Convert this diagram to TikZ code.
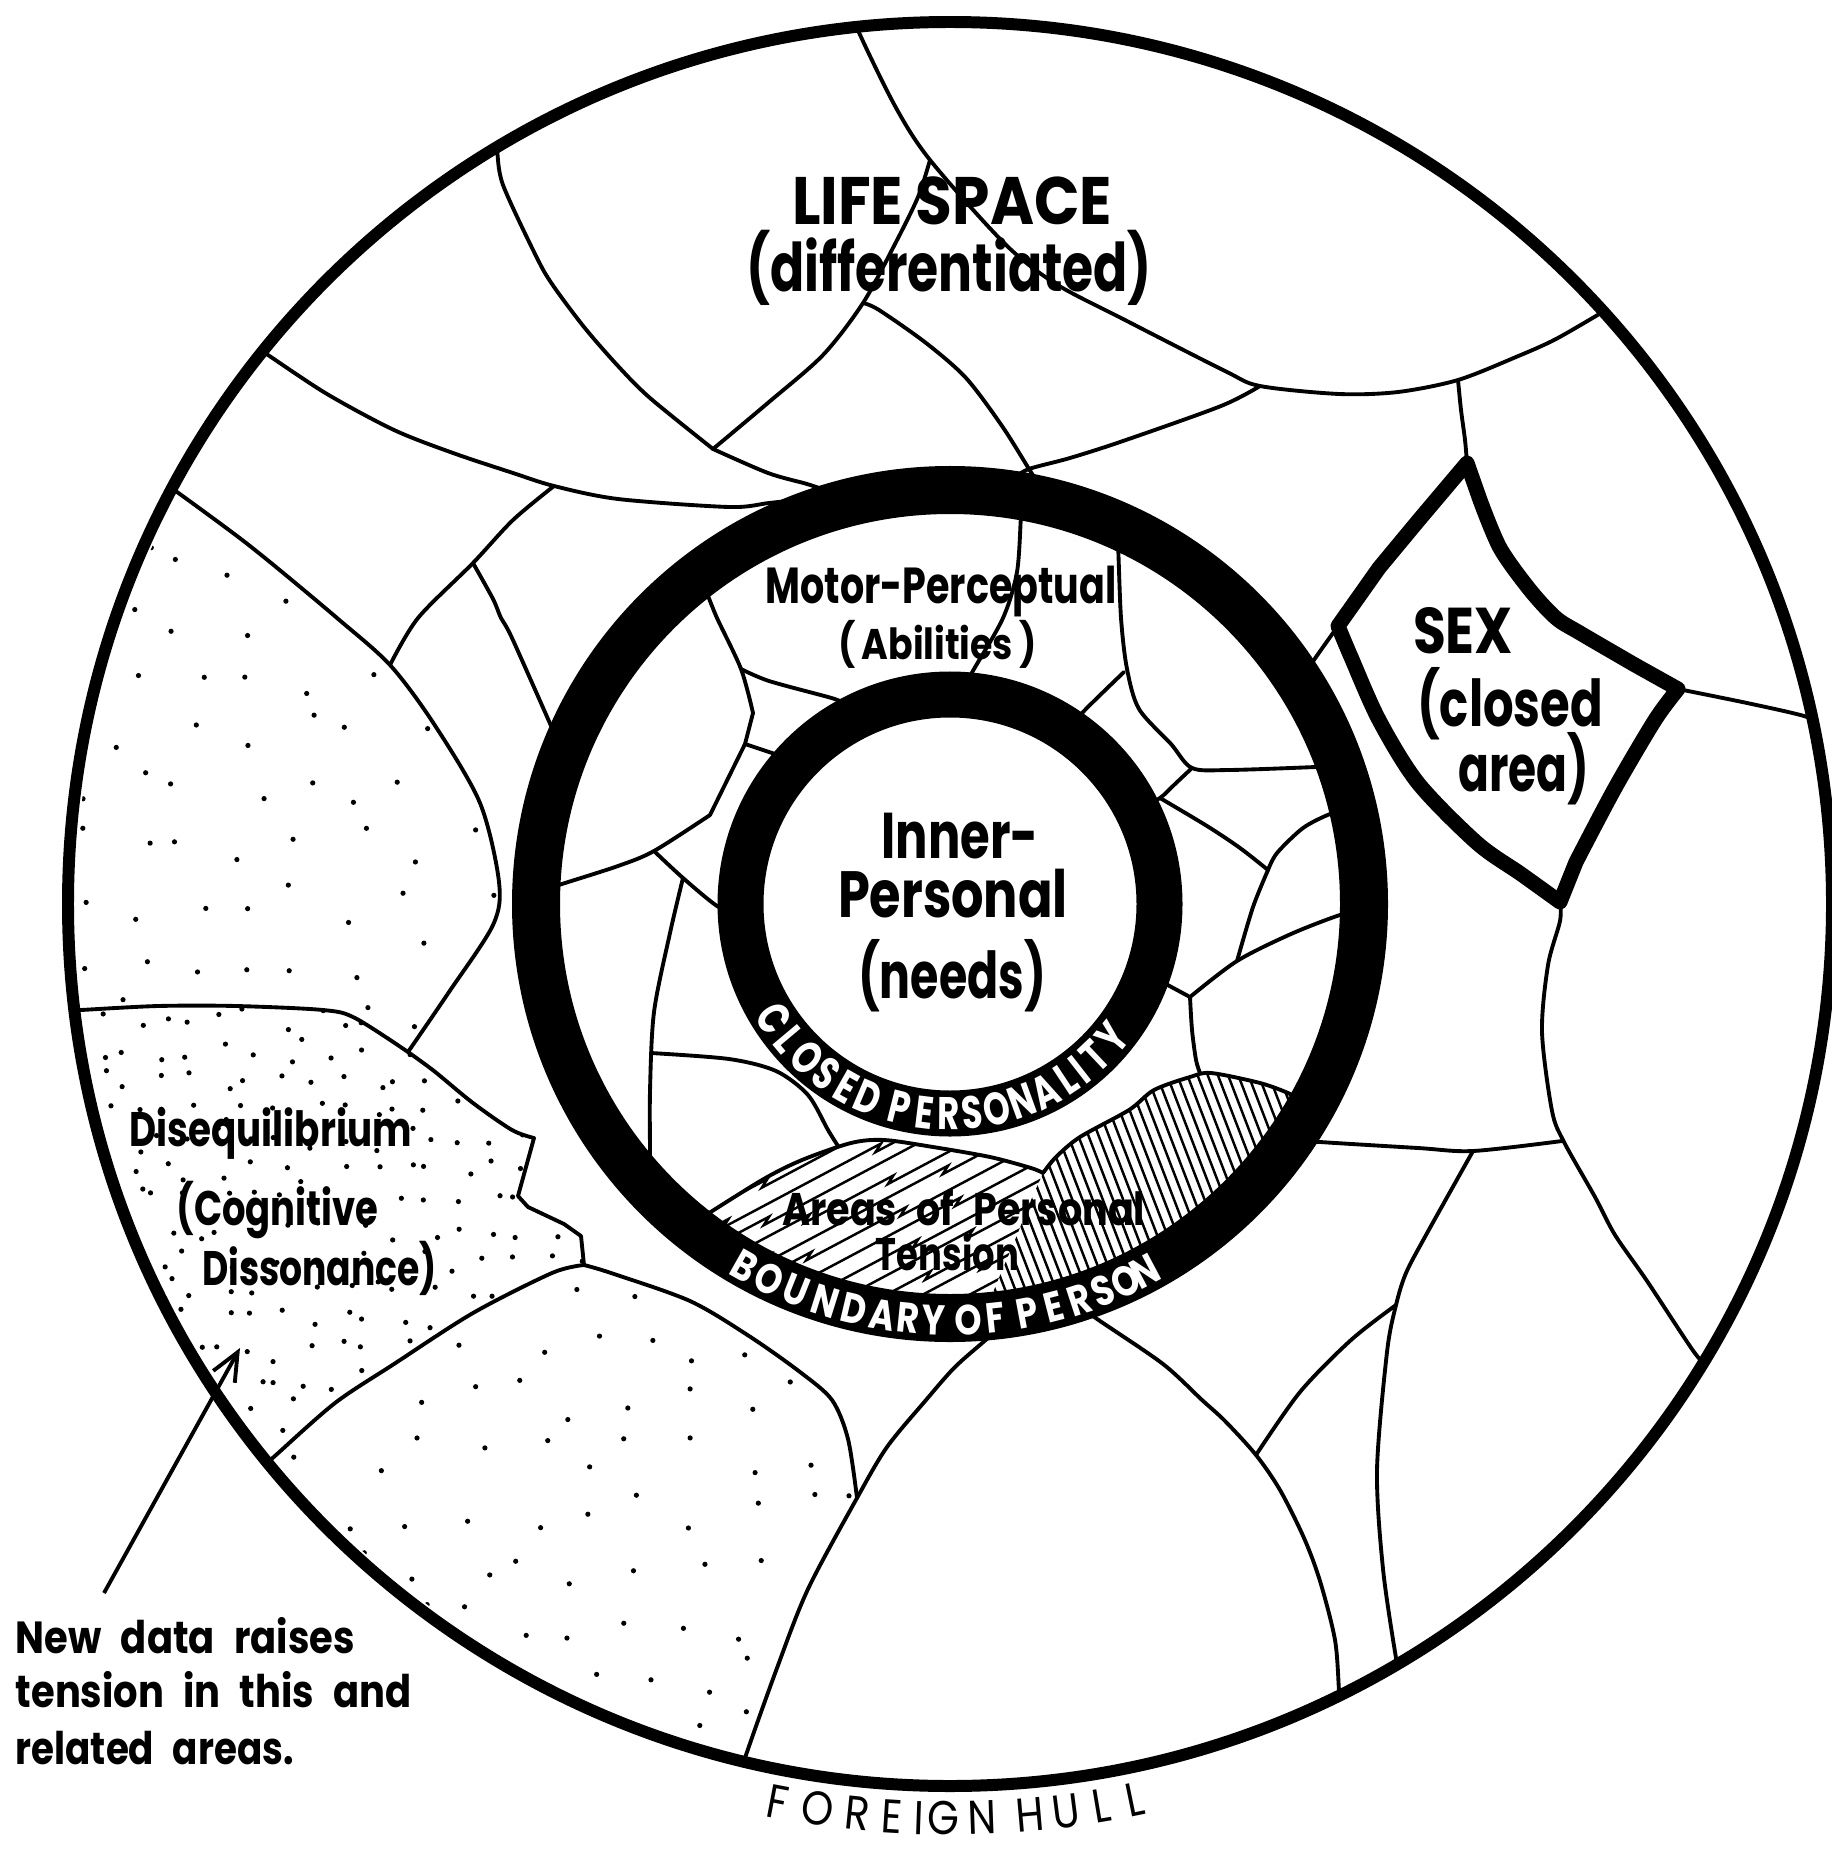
\documentclass[tikz,border=0pt]{standalone}
\usepackage{fontspec}
\setmainfont{Poppins}
\usepackage{graphicx}
\usetikzlibrary{arrows.meta}
\newlength\px \setlength\px{0.28453pt}
\newcommand\fw[2]{\resizebox{#1\px}{\height}{#2}}
\newcommand\fsz[1]{\fontsize{#1}{#1}\selectfont}
\newcommand\wsp{\spaceskip=0.5em\relax}
\begin{document}
\begin{tikzpicture}[x=0.1mm, y=-0.1mm,
  rl/.style={line width=1.1pt, line join=round, line cap=round},
  hl/.style={line width=0.7pt, line cap=butt, line join=miter},
  lbl/.style={anchor=base, inner sep=0pt, outer sep=0pt},
  rch/.style={anchor=base, inner sep=0pt, text=white, font=\bfseries\fsz{13}},
  bch/.style={anchor=base, inner sep=0pt, text=white, font=\bfseries\fsz{12}},
  fch/.style={anchor=base, inner sep=0pt, font=\fsz{13.5}},
  sexl/.style={line width=4.27pt, line join=round}]
\path[use as bounding box, fill=white] (0,0) rectangle (1832,1852);
\coordinate (C) at (950,904);

% ---------- stipple dots ----------
\pgfmathsetseed{4242}
\begin{scope}
 \clip (C) circle[radius=874];
 \clip (168,487) -- (177,492) -- (237,536) -- (276,567) -- (337,618) -- (390,665) -- (434,724) -- (480,803) -- (499,882) -- (493,925) -- (449,992) -- (408,1052) -- (355,1018) -- (323,1010) -- (236,1006) -- (158,1006) -- (81,1010) -- (0,1011) -- (0,487) -- cycle;
 \foreach \i in {0,...,8}{\foreach \j in {0,...,10}{
   \pgfmathsetmacro\xx{75+\i*57+rand*20}
   \pgfmathsetmacro\yy{505+\j*57+rand*20}
   \fill (\xx,\yy) circle[radius=2.6];
 }}
\end{scope}
\begin{scope}
 \clip (C) circle[radius=874];
 \clip (62,1011) -- (81,1010) -- (158,1006) -- (236,1006) -- (323,1010) -- (355,1018) -- (408,1052) -- (434,1071) -- (473,1103) -- (512,1130) -- (534,1138) -- (518,1196) -- (528,1207) -- (564,1224) -- (581,1236) -- (584,1265) -- (552,1273) -- (473,1313) -- (394,1364) -- (335,1403) -- (276,1455) -- (262,1468) -- (0,1600) -- (0,1011) -- cycle;
 \foreach \i in {0,...,18}{\foreach \j in {0,...,16}{
   \pgfmathsetmacro\xx{72+\i*30+rand*12}
   \pgfmathsetmacro\yy{1020+\j*30+rand*12}
   \fill (\xx,\yy) circle[radius=2.6];
 }}
\end{scope}
\begin{scope}
 \clip (C) circle[radius=874];
 \clip (584,1265) -- (611,1273) -- (690,1301) -- (749,1336) -- (800,1372) -- (832,1400) -- (848,1439) -- (857,1498) -- (808,1589) -- (777,1668) -- (745,1758) -- (740,1780) -- (740,1852) -- (0,1852) -- (0,1600) -- (262,1468) -- (276,1455) -- (335,1403) -- (394,1364) -- (473,1313) -- (552,1273) -- cycle;
 \foreach \i in {0,...,11}{\foreach \j in {0,...,9}{
   \pgfmathsetmacro\xx{255+\i*55+rand*20}
   \pgfmathsetmacro\yy{1290+\j*55+rand*20}
   \fill (\xx,\yy) circle[radius=2.6];
 }}
\end{scope}

% ---------- tension hatching ----------
\begin{scope}
 \clip plot[smooth] coordinates {(695,1222) (762,1180) (802,1160) (851,1143) (884,1140) (933,1147) (990,1157) (1031,1168) (1043,1173)} -- (1031,1200) -- (1015,1240) -- (998,1280) -- (988,1315) -- (930,1330) -- (850,1320) -- (760,1290) -- (690,1245) -- cycle;
 \begin{scope}[shift={(870,1240)}, rotate=28]
  \foreach \k in {-12,...,12}{
   \pgfmathsetmacro\ya{\k*17}
   \pgfmathsetmacro\yb{\ya+5}
   \pgfmathsetmacro\yc{\ya+10}
   \pgfmathsetmacro\ja{-130+mod(37*(\k+20),90)}
   \pgfmathsetmacro\jb{30+mod(53*(\k+20),110)}
   \draw[hl] (-320,\ya) -- (\ja,\ya) -- ({\ja-9},\yb) -- (\jb,\yb) -- ({\jb-9},\yc) -- (320,\yc);
  }
 \end{scope}
\end{scope}
\begin{scope}
 \clip plot[smooth] coordinates {(1043,1173) (1056,1157) (1080,1137) (1129,1110) (1154,1090) (1190,1077) (1211,1073) (1260,1083) (1288,1093) (1300,1100)} -- (1321,1112) -- (1276,1177) -- (1212,1239) -- (1136,1286) -- (1053,1316) -- (994,1327) -- (990,1300) -- (998,1280) -- (1015,1240) -- (1031,1200) -- cycle;
 \begin{scope}[shift={(1150,1190)}, rotate=-69]
  \foreach \k in {-24,...,24} \draw[hl] (-220,\k*9.5) -- (220,\k*9.5);
 \end{scope}
\end{scope}

% ---------- life space lines (outside boundary of person) ----------
\begin{scope}
 \clip (C) circle[radius=882];
 \draw[rl] plot[smooth] coordinates {(495,140) (497,150) (503,185) (536,256) (552,284) (584,327) (618,366) (650,398) (713,449)};
 \draw[rl] plot[smooth] coordinates {(713,449) (768,473) (807,484) (831,492)};
 \draw[rl] plot[smooth] coordinates {(930,160) (918,197) (895,244) (863,303) (823,355) (769,402) (713,449)};
 \draw[rl] plot[smooth] coordinates {(856,14) (857,28) (895,106) (930,160) (1005,244) (1056,284) (1123,319) (1225,371) (1260,386) (1339,394) (1398,392) (1458,380) (1516,357) (1556,339) (1606,310)};
 \draw[rl] plot[smooth] coordinates {(863,303) (879,310) (926,343) (966,378) (1002,426) (1029,469) (1042,490)};
 \draw[rl] plot[smooth] coordinates {(1012,479) (1029,469) (1070,458) (1123,441) (1221,406) (1260,386)};
 \draw[rl] plot[smooth] coordinates {(258,348) (268,355) (327,394) (394,430) (453,453) (513,473) (554,486) (618,499) (729,507) (769,503) (805,499)};
 \draw[rl] plot[smooth] coordinates {(554,486) (513,520) (473,563) (418,618) (390,665)};
 \draw[rl] plot[smooth] coordinates {(473,563) (493,599) (501,618) (512,638) (552,728) (560,746)};
 \draw[rl] plot[smooth] coordinates {(168,487) (177,492) (237,536) (276,567) (337,618) (390,665) (434,724) (480,803) (499,882) (493,925) (449,992) (408,1052)};
 \draw[rl] plot[smooth] coordinates {(62,1011) (81,1010) (158,1006) (236,1006) (323,1010) (355,1018) (408,1052)};
 \draw[rl] plot[smooth] coordinates {(408,1052) (434,1071) (473,1103) (512,1130) (534,1138)} -- (518,1196) -- (528,1207) -- (564,1224) -- (581,1236) -- (584,1265);
 \draw[rl] plot[smooth] coordinates {(584,1265) (552,1273) (473,1313) (394,1364) (335,1403) (276,1455) (262,1468) (250,1478)};
 \draw[rl] plot[smooth] coordinates {(584,1265) (611,1273) (690,1301) (749,1336) (800,1372) (832,1400) (848,1439) (857,1498)};
 \draw[rl] plot[smooth] coordinates {(1000,1328) (981,1344) (954,1368) (926,1400) (887,1447) (857,1498) (808,1589) (777,1668) (745,1758) (740,1780)};
 \draw[rl] plot[smooth] coordinates {(1080,1307) (1100,1321) (1163,1364) (1202,1400) (1225,1421) (1256,1455) (1280,1490) (1304,1538) (1320,1581) (1335,1640) (1339,1691) (1340,1705)};
 \draw[rl] plot[smooth] coordinates {(1256,1455) (1300,1392) (1351,1340) (1396,1305)};
 \draw[rl] plot[smooth] coordinates {(1473,1151) (1426,1235) (1406,1273) (1396,1305) (1387,1352) (1377,1470) (1383,1569) (1396,1658) (1400,1672)};
 \draw[rl] plot[smooth] coordinates {(1300,1140) (1320,1142) (1418,1148) (1473,1151) (1562,1141)};
 \draw[rl] plot[smooth] coordinates {(1560,902) (1560,921) (1548,965) (1542,1032) (1552,1111) (1564,1142) (1595,1197) (1615,1235) (1647,1281) (1694,1352) (1708,1366)};
 \draw[rl] plot[smooth] coordinates {(1338,626) (1316,657) (1305,674)};
 \draw[rl] plot[smooth] coordinates {(1458,380) (1461,410) (1465,440) (1467,463)};
 \draw[rl] plot[smooth] coordinates {(1678,689) (1747,703) (1804,716) (1825,726)};
\end{scope}

% ---------- lines between the two rings ----------
\draw[rl] plot[smooth] coordinates {(700,580) (706,591) (717,618) (741,669) (753,713)} -- (745,744) -- plot[smooth] coordinates {(710,815) (654,851) (618,866) (562,884) (545,890)};
\draw[rl] plot[smooth] coordinates {(741,669) (769,681) (828,697) (840,701) (860,708)};
\draw[rl] plot[smooth] coordinates {(745,744) (769,752) (790,759)};
\draw[rl] plot[smooth] coordinates {(654,851) (683,878) (717,906) (740,916)};
\draw[rl] plot[smooth] coordinates {(683,878) (670,933) (654,1012) (650,1091) (650,1160) (649,1178)};
\draw[rl] plot[smooth] coordinates {(651,1053) (729,1059) (776,1071) (808,1095) (828,1130) (838,1146)};
\draw[rl] plot[smooth] coordinates {(1023,500) (1021,516) (1017,572) (1003,618) (974,669) (963,688)};
\draw[rl] plot[smooth] coordinates {(1116,528) (1118,544) (1121,618) (1127,669) (1139,709) (1171,744) (1192,768) (1229,770) (1316,767) (1332,766)};
\draw[rl] plot[smooth] coordinates {(1072,727) (1084,711) (1124,672)};
\draw[rl] plot[smooth] coordinates {(1192,768) (1175,784) (1160,798) (1143,806)};
\draw[rl] plot[smooth] coordinates {(1160,798) (1207,826) (1240,848) (1268,870)};
\draw[rl] plot[smooth] coordinates {(1268,870) (1277,853) (1303,828) (1330,814) (1348,810)};
\draw[rl] plot[smooth] coordinates {(1268,870) (1253,907) (1237,961)};
\draw[rl] (1145,978) -- (1164,983) -- plot[smooth] coordinates {(1190,997) (1237,961) (1291,934) (1340,915) (1358,913)};
\draw[rl] plot[smooth] coordinates {(1190,997) (1192,1030) (1196,1060) (1200,1073)};
% tension outlines
\draw[rl] plot[smooth] coordinates {(695,1222) (762,1180) (802,1160) (851,1143) (884,1140) (933,1147) (990,1157) (1031,1168) (1043,1173)};
\draw[rl] plot[smooth] coordinates {(1043,1173) (1056,1157) (1080,1137) (1129,1110) (1154,1090) (1190,1077) (1211,1073) (1260,1083) (1288,1093) (1300,1100)};

% ---------- SEX closed area ----------
\draw[sexl] (1467,463) -- (1418,521) -- (1379,568) -- plot[smooth] coordinates {(1338,626) (1351,657) (1379,720) (1418,783) (1477,843) (1521,874) (1560,902)} -- plot[smooth] coordinates {(1576,862) (1615,788) (1655,720) (1678,689)} -- plot[smooth] coordinates {(1635,665) (1580,633) (1556,618) (1530,590) (1500,548) (1480,500)} -- cycle;

% ---------- rings and hull ----------
\draw[line width=13.66pt] (C) circle[radius=414];
\draw[line width=13.09pt] (C) circle[radius=209.5];
\draw[line width=3.41pt] (C) circle[radius=882];

% ---------- ring texts ----------
\foreach \ch/\a [count=\n] in {C/147,L/140,O/133,S/126,E/119.5,D/113,P/104,E/97,R/90.5,S/84,O/77,N/70,A/63,L/56.5,I/52,T/46.5,Y/39.5}
  \node[rch, rotate=90-\a] (cp\n) at ([shift={(\a:226)}]C) {\scalebox{0.74}[1]{\ch}};
\foreach \ch/\a [count=\n] in {B/119.5,O/115.7,U/111.7,N/107.5,D/103.3,A/99.4,R/95.8,Y/92.3,O/87.4,F/83.8,P/79.3,E/75.6,R/71.9,S/68.4,O/65.1,N/62.0}
  \node[bch, rotate=90-\a] (bp\n) at ([shift={(\a:431)}]C) {\scalebox{0.82}[1]{\ch}};
\foreach \ch/\a [count=\n] in {F/100.84,O/98.34,R/95.79,E/93.61,I/91.93,G/90.40,N/87.95,H/85.0,U/82.70,L/80.45,L/78.36}
  \node[fch, rotate=90-\a] (fh\n) at ([shift={(\a:931)}]C) {\scalebox{0.86}[1]{\ch}};

% ---------- labels ----------
\node[lbl, font=\bfseries\fsz{19.1}] (life) at (952,224.5) {\fw{320}{LIFE SPACE}};
\node[lbl, font=\bfseries\fsz{19.1}] (diff) at (949,291.7) {\fw{406}{(differentiated)}};
\node[lbl, font=\bfseries\fsz{14.4}] (motor) at (941,603) {\fw{351}{Motor-Perceptual}};
\node[lbl, font=\bfseries\fsz{12.2}] (abil) at (937.5,659) {\fw{198}{(\,Abilities\,)}};
\node[lbl, font=\bfseries\fsz{18.4}] (inner) at (960,858) {\fw{157}{Inner-}};
\node[lbl, font=\bfseries\fsz{18.6}] (pers) at (953,917) {\fw{230}{Personal}};
\node[lbl, font=\bfseries\fsz{18.4}] (needs) at (952,998) {\fw{188}{(needs)}};
\node[lbl, font=\bfseries\fsz{18.4}] (sex) at (1463,653.5) {\fw{100}{SEX}};
\node[lbl, font=\bfseries\fsz{18.4}] (closed) at (1510,726.4) {\fw{186}{(closed}};
\node[lbl, font=\bfseries\fsz{18.4}] (area) at (1524,791.4) {\fw{131}{area)}};
\node[lbl, font=\bfseries\fsz{13.8}] (diseq) at (270.6,1146) {\fw{282}{Disequilibrium}};
\node[lbl, font=\bfseries\fsz{13.8}] (cogn) at (277.5,1225) {\fw{202}{(Cognitive}};
\node[lbl, font=\bfseries\fsz{13.8}] (disso) at (319.6,1285) {\fw{235}{Dissonance)}};
\node[lbl, font=\bfseries\fsz{13}] (apt1) at (963.7,1225) {\fw{363}{\wsp Areas of Personal}};
\node[lbl, font=\bfseries\fsz{13}] (apt2) at (947.4,1270) {\fw{143}{Tension}};
\node[lbl, anchor=base west, font=\bfseries\fsz{12.8}] (nd1) at (15.7,1653.8) {\fw{339}{\wsp New data raises}};
\node[lbl, anchor=base west, font=\bfseries\fsz{12.8}] (nd2) at (15.7,1707) {\fw{396}{\wsp tension in this and}};
\node[lbl, anchor=base west, font=\bfseries\fsz{12.8}] (nd3) at (15.7,1764) {\fw{278}{\wsp related areas.}};

% ---------- arrow ----------
\coordinate (arrS) at (104,1593);
\coordinate (arrE) at (240,1348);
\draw[line width=1.1pt, -{Straight Barb[length=8pt, width=7pt]}] (arrS) -- (arrE);
\end{tikzpicture}
\end{document}
